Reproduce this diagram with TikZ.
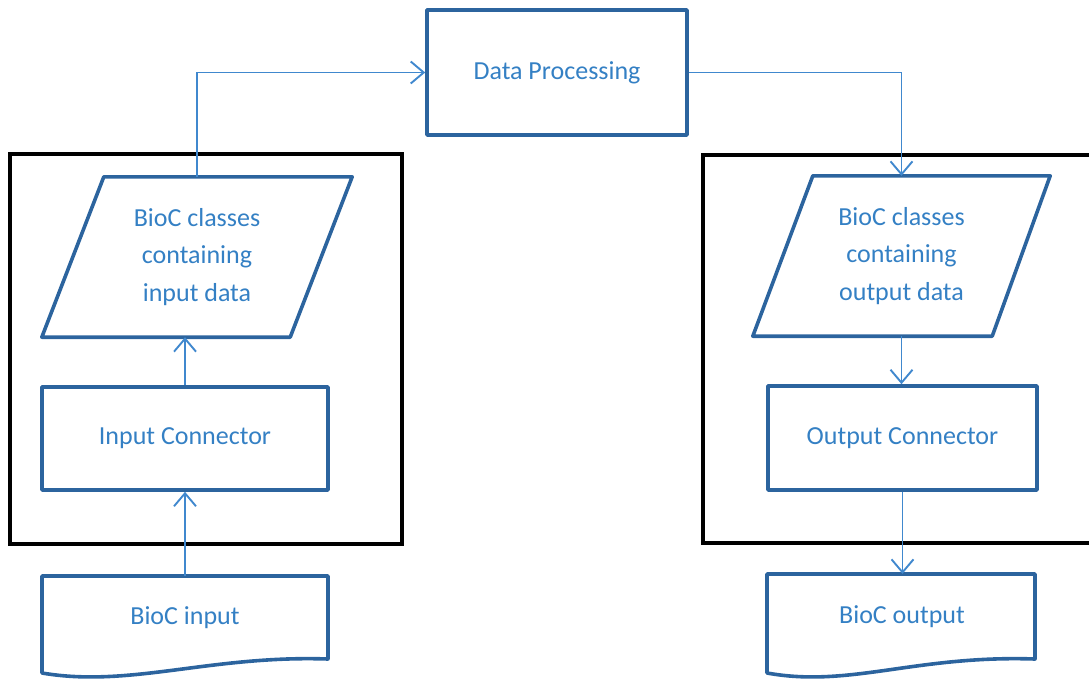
\documentclass[tikz,border=0pt]{standalone}
\usepackage{fontspec}
\setmainfont{Carlito}
\usetikzlibrary{arrows.meta,calc}
\definecolor{boxblue}{RGB}{44,100,158}
\definecolor{txtblue}{RGB}{52,128,196}
\definecolor{lineblue}{RGB}{64,136,206}
\tikzset{
  shapebox/.style={draw=boxblue,line width=3.6pt,line join=round,inner sep=0pt},
  ghost/.style={inner sep=0pt},
  lbl/.style={text=txtblue,font=\fontsize{26}{37.5}\selectfont,align=center,inner sep=0pt},
  frame/.style={draw=black,line width=3.8pt},
  conn/.style={draw=lineblue,line width=1.9pt,-{Straight Barb[length=13pt,width=22pt,line width=1.9pt]}},
}
\begin{document}
\begin{tikzpicture}[x=1pt,y=-1pt]
\useasboundingbox (0,0) rectangle (1089,682);
\clip (0,0) rectangle (1089,682);
% frames
\draw[frame] (10,154) rectangle (402,544);
\draw[frame] (703,155) rectangle (1100,543);
% data processing
\node[shapebox,minimum width=260pt,minimum height=125pt] (dp) at (557,72.5) {};
\node[lbl] at (dp.center) {Data Processing};
% left column
\node[ghost,minimum width=310pt,minimum height=160pt] (para1) at (197,257) {};
\draw[shapebox] ([xshift=62pt]para1.north west) -- (para1.north east) -- ([xshift=-62pt]para1.south east) -- (para1.south west) -- cycle;
\node[lbl] at (para1.center) {BioC classes\\containing\\input data};
\node[shapebox,minimum width=286pt,minimum height=103pt] (ic) at (185,438.5) {};
\node[lbl] at (ic.center) {Input Connector};
\node[ghost,minimum width=286pt,minimum height=97pt] (in1) at (185,624.5) {};
\draw[shapebox] (42,673) -- (42,576) -- (328,576) -- (328,659) .. controls (210,655) and (130,688) .. cycle;
\node[lbl] at (185,618) {BioC input};
% right column
\node[ghost,minimum width=297pt,minimum height=160pt] (para2) at (901.5,256) {};
\draw[shapebox] ([xshift=60pt]para2.north west) -- (para2.north east) -- ([xshift=-58pt]para2.south east) -- (para2.south west) -- cycle;
\node[lbl] at (para2.center) {BioC classes\\containing\\output data};
\node[shapebox,minimum width=269pt,minimum height=104pt] (oc) at (902.5,438) {};
\node[lbl] at (oc.center) {Output Connector};
\node[ghost,minimum width=268pt,minimum height=99pt] (out1) at (901,623.5) {};
\draw[shapebox] (767,673) -- (767,574) -- (1035,574) -- (1035,659) .. controls (915,655) and (850,688) .. cycle;
\node[lbl] at (902,617) {BioC output};
% connectors
\draw[conn] (para1.north) |- (dp.west);
\draw[conn] (dp.east) -| (para2.north);
\draw[conn] (in1.north) -- (ic.south);
\draw[conn] (ic.north) -- (ic.north |- para1.south);
\draw[conn] (para2.south) -- (para2.south |- oc.north);
\draw[conn] (oc.south) -- (oc.south |- out1.north);
\end{tikzpicture}
\end{document}
